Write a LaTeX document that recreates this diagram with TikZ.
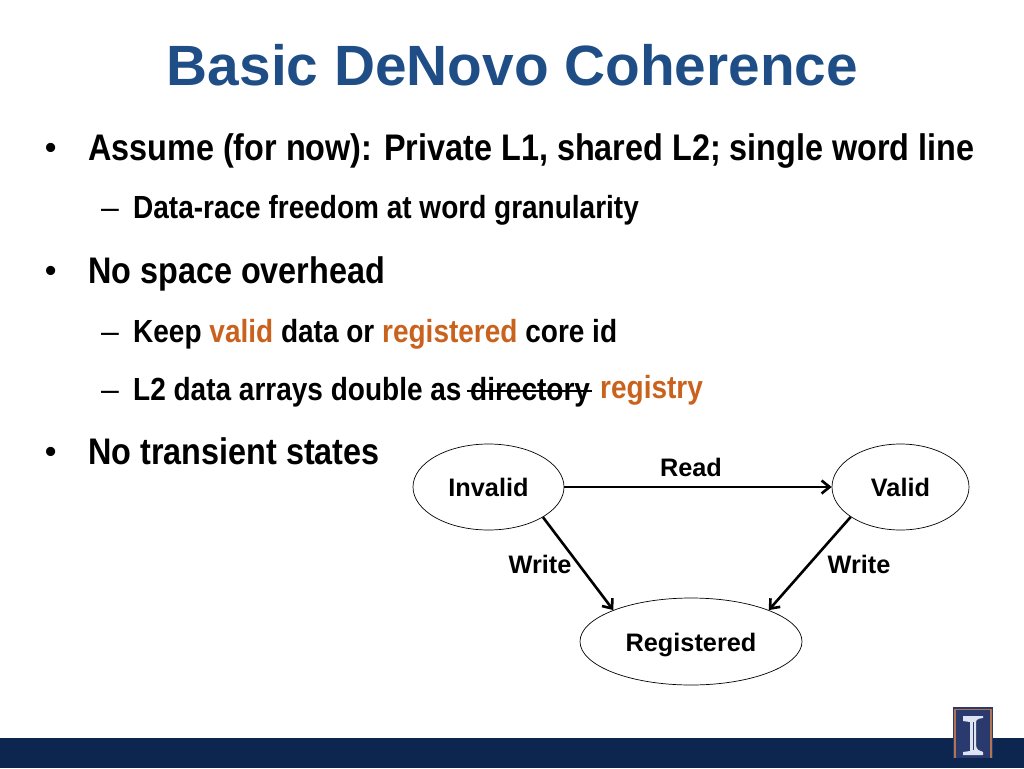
\documentclass[tikz,border=0pt]{standalone}
\usepackage{fontspec}
\setmainfont{Liberation Sans}
\newfontfamily\narrowfont[FakeStretch=0.875]{Liberation Sans}
\usetikzlibrary{shapes.geometric}
\usetikzlibrary{arrows.meta}
\definecolor{titleblue}{HTML}{1F4E87}
\definecolor{regorange}{HTML}{C9621C}
\definecolor{barblue}{HTML}{0D2650}
\definecolor{logoblue}{HTML}{2A3A6E}
\definecolor{logorim}{HTML}{B0754F}
\definecolor{logowhite}{HTML}{DDE3F0}

\begin{document}
\begin{tikzpicture}[x=1pt, y=-1pt,
  state/.style={draw, ellipse, inner sep=0pt, line width=.7pt},
  lbl/.style={font=\fontsize{25.3}{30}\bfseries, anchor=base},
  big/.style={font=\fontsize{37}{44}\narrowfont\bfseries, anchor=base west, inner sep=0pt},
  small/.style={font=\fontsize{32}{38}\narrowfont\bfseries, anchor=base west, inner sep=0pt},
  dot/.style={font=\fontsize{32}{38}\bfseries, anchor=base west, inner sep=0pt},
  dash1/.style={font=\fontsize{32}{38}\selectfont, anchor=base west, inner sep=0pt},
  trans/.style={-{Straight Barb[length=8pt,width=13pt]}, line width=2.6pt}]
\useasboundingbox (0,0) rectangle (1024,768);
\node[anchor=base, inner sep=0pt, text=titleblue, font=\fontsize{56.8}{66}\bfseries] (title) at (512.5,85) {Basic DeNovo Coherence};
% bullets
\node[dot] (b1) at (45,158) {•};
\node[big] (t1) at (88,160) {Assume (for now): Private L1, shared L2; single word line};
\node[dash1] (d1) at (101,218) {–};
\node[small] (t2) at (133,218) {Data-race freedom at word granularity};
\node[dot] (b2) at (45,281) {•};
\node[big] (t3) at (88,283) {No space overhead};
\node[dash1] (d2) at (101,342) {–};
\node[small] (t4) at (133,342) {Keep \textcolor{regorange}{valid} data or \textcolor{regorange}{registered} core id};
\node[dash1] (d3) at (101,400) {–};
\node[small] (t5) at (133,400) {L2 data arrays double as};
\node[small] (dir) at (470,400) {directory};
\node[small, text=regorange] (reg) at (600,398) {registry};
\coordinate (s1) at (467,391);
\coordinate (s2) at (592,391);
\draw[line width=1.4pt] (s1) -- (s2);
\node[dot] (b3) at (45,462) {•};
\node[big] (t6) at (88,464) {No transient states};
% states
\node[state, minimum width=151pt, minimum height=86pt] (inv) at (488.5,487) {};
\node[state, minimum width=137pt, minimum height=86pt] (val) at (900.5,487) {};
\node[state, minimum width=222pt, minimum height=87pt] (regd) at (691,641.5) {};
\node[lbl] (invt) at (488.5,496) {Invalid};
\node[lbl] (valt) at (900.5,496) {Valid};
\node[lbl] (regt) at (691,651) {Registered};
\draw[trans] (inv.east) -- (val.west);
\draw[trans] (inv.-29) -- (regd.158);
\draw[trans] (val.211) -- (regd.22);
\node[lbl] (rd) at (691,476) {Read};
\node[lbl] (w1) at (540,573) {Write};
\node[lbl] (w2) at (859,573) {Write};
% footer
\fill[barblue] (0,738) rectangle (1024,768);
\fill[logoblue] (953,707) rectangle (993,758);
\draw[logorim, line width=1.3pt] (955,758) -- (955,709.5) -- (991,709.5) -- (991,758);
\fill[logowhite] (963,716) -- (983,716) -- (983,718) .. controls (976,719) and (976,720) .. (976,724) -- (976,745) .. controls (976,750) and (980,751) .. (983,752) -- (983,755) -- (963,755) -- (963,752) -- (970,751) -- (970,722) -- (963,721) -- cycle;
\fill[logoblue] (972.5,722) rectangle (973.5,750);
\end{tikzpicture}
\end{document}
